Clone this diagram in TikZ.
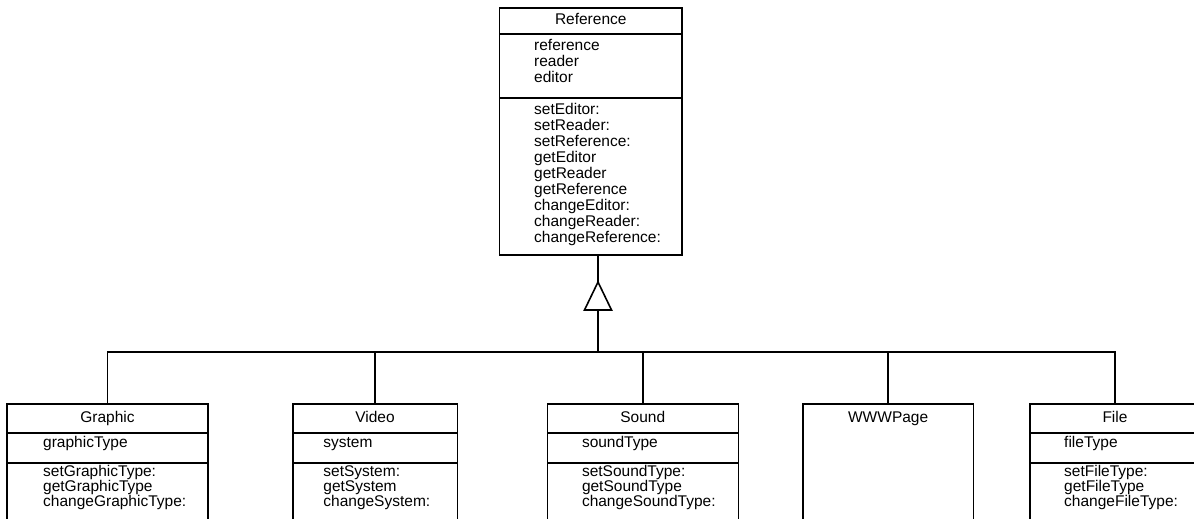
\documentclass[tikz,border=0pt]{standalone}
\usepackage{fontspec}
\setmainfont{Liberation Sans}
\begin{document}
\begin{tikzpicture}[x=1pt,y=-1pt,
  box/.style={draw, line width=1.6pt, rectangle, inner sep=0pt, outer sep=0pt, anchor=north west},
  conn/.style={line width=1.6pt},
  lbl/.style={inner sep=0pt, anchor=base west, font=\fontsize{15.5}{16}\selectfont},
  ttl/.style={inner sep=0pt, anchor=base, font=\fontsize{15.5}{16}\selectfont}]
\useasboundingbox (0,0) rectangle (1194,519);
\clip (0,0) rectangle (1194,519);

% ---- superclass Reference ----
\node[box, minimum width=182.5pt, minimum height=247pt] (ref) at (499.5,8) {};
\draw[conn] ([yshift=-26pt]ref.north west) -- ([yshift=-26pt]ref.north east);
\draw[conn] ([yshift=-90pt]ref.north west) -- ([yshift=-90pt]ref.north east);
\node[ttl] (ref-title) at ([yshift=-17pt]ref.north) {Reference};
\foreach \t [count=\i from 0] in {reference, reader, editor}
  \node[lbl] (ref-a\i) at ([xshift=34.5pt, yshift={-42.5pt-16.2pt*\i}]ref.north west) {\t};
\foreach \t [count=\i from 0] in {setEditor:, setReader:, setReference:, getEditor, getReader,
    getReference, changeEditor:, changeReader:, changeReference:}
  \node[lbl] (ref-m\i) at ([xshift=34.5pt, yshift={-106pt-16.1pt*\i}]ref.north west) {\t};

% ---- generalization triangle ----
\coordinate (apex) at (598,282);
\coordinate (tribase) at (598,310);
\coordinate (bus) at (598,352);
\draw[conn, line join=miter] (apex) -- (584.5,310) -- (611.5,310) -- cycle;

% ---- subclasses ----
\node[box, minimum width=201pt, minimum height=140pt] (graphic) at (7,404) {};
\node[box, minimum width=164.6pt, minimum height=140pt] (video) at (292.7,404) {};
\node[box, minimum width=191pt, minimum height=140pt] (sound) at (547.3,404) {};
\node[box, minimum width=170.3pt, minimum height=140pt] (www) at (803,404) {};
\node[box, minimum width=170pt, minimum height=140pt] (file) at (1030,404) {};

\foreach \b in {graphic, video, sound, file} {
  \draw[conn] ([yshift=-29pt]\b.north west) -- ([yshift=-29pt]\b.north east);
  \draw[conn] ([yshift=-59pt]\b.north west) -- ([yshift=-59pt]\b.north east);
}

\node[ttl] (graphic-title) at ([yshift=-18pt]graphic.north) {Graphic};
\node[ttl] (video-title) at ([yshift=-18pt]video.north) {Video};
\node[ttl] (sound-title) at ([yshift=-18pt]sound.north) {Sound};
\node[ttl] (www-title) at ([yshift=-18pt]www.north) {WWWPage};
\node[ttl] (file-title) at ([yshift=-18pt]file.north) {File};

\node[lbl] (graphic-a) at ([xshift=36pt, yshift=-43pt]graphic.north west) {graphicType};
\foreach \t [count=\i from 0] in {setGraphicType:, getGraphicType, changeGraphicType:}
  \node[lbl] (graphic-m\i) at ([xshift=36pt, yshift={-72pt-15pt*\i}]graphic.north west) {\t};

\node[lbl] (video-a) at ([xshift=30.5pt, yshift=-43pt]video.north west) {system};
\foreach \t [count=\i from 0] in {setSystem:, getSystem, changeSystem:}
  \node[lbl] (video-m\i) at ([xshift=30.5pt, yshift={-72pt-15pt*\i}]video.north west) {\t};

\node[lbl] (sound-a) at ([xshift=34.5pt, yshift=-43pt]sound.north west) {soundType};
\foreach \t [count=\i from 0] in {setSoundType:, getSoundType, changeSoundType:}
  \node[lbl] (sound-m\i) at ([xshift=34.5pt, yshift={-72pt-15pt*\i}]sound.north west) {\t};

\node[lbl] (file-a) at ([xshift=34pt, yshift=-43pt]file.north west) {fileType};
\foreach \t [count=\i from 0] in {setFileType:, getFileType, changeFileType:}
  \node[lbl] (file-m\i) at ([xshift=34pt, yshift={-72pt-15pt*\i}]file.north west) {\t};

% ---- inheritance connectors ----
\draw[conn] (apex |- ref.south) -- (apex);
\draw[conn] (tribase) -- (bus);
\foreach \b in {graphic, video, sound, www, file}
  \draw[conn] (bus) -| (\b.north);
\end{tikzpicture}
\end{document}
